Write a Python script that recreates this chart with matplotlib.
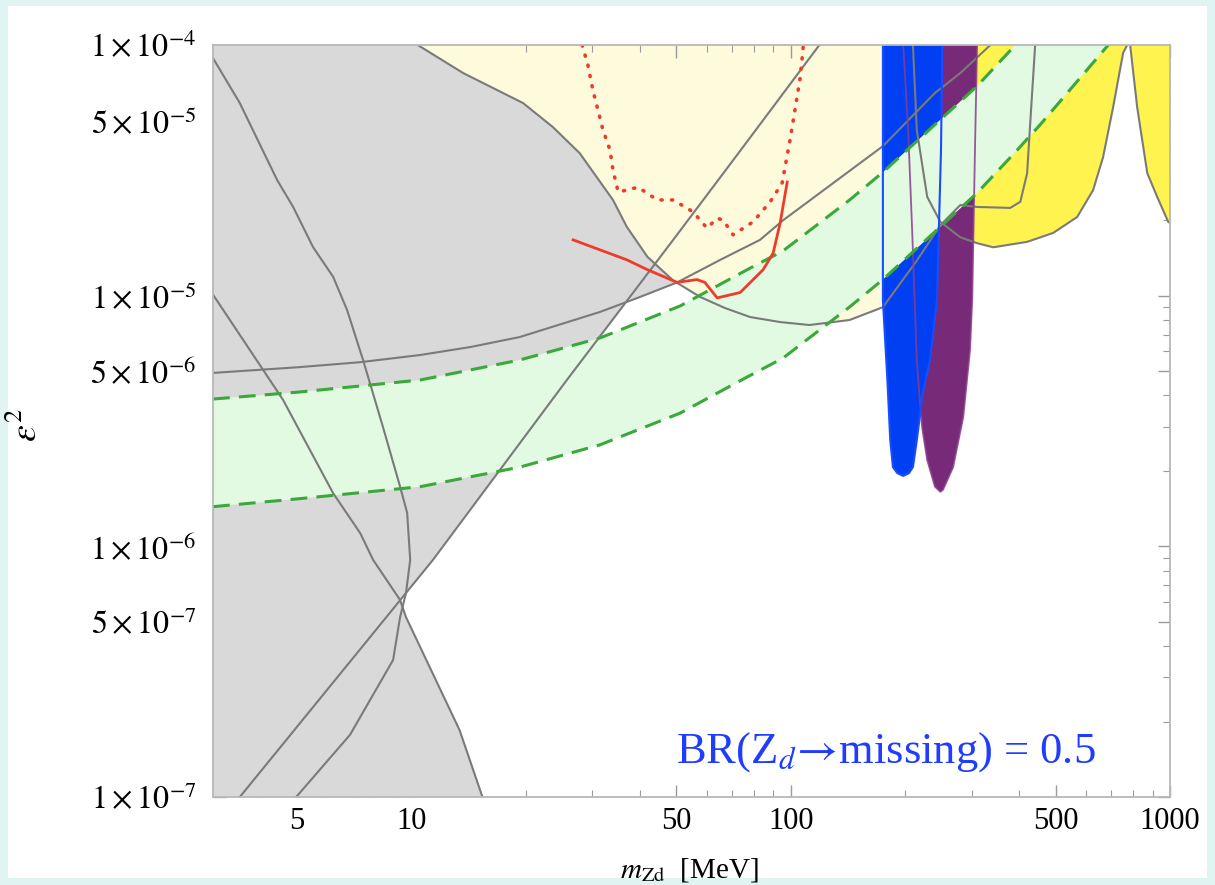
import numpy as np
import matplotlib
matplotlib.use('Agg')
import matplotlib.pyplot as plt
from matplotlib.patches import Rectangle
from matplotlib.ticker import FixedLocator, FixedFormatter, NullFormatter

plt.rcParams['font.family'] = ['Liberation Serif', 'DejaVu Serif']
plt.rcParams['mathtext.fontset'] = 'stix'

# ---- data (m_Zd in MeV, eps^2) ----
# gray excluded region outline
gray_m = [3.0, 10.4, 13.7, 19.7, 23.6, 27.8, 34.0, 37.0, 41.9, 49.0, 50.2,
          40.1, 37.2, 25.7, 11.4, 9.34, 9.68, 13.4, 15.4, 3.0]
gray_e = [1.0e-4, 1.0e-4, 7.73e-5, 5.87e-5, 4.71e-5, 3.70e-5, 2.41e-5, 1.88e-5,
          1.43e-5, 1.15e-5, 1.13e-5, 9.89e-6, 9.66e-6, 4.61e-6, 8.83e-7, 6.1e-7,
          5.22e-7, 1.85e-7, 1.0e-7, 1.0e-7]

# boundary of the pale yellow region
line_d_m = [10.4, 13.7, 19.7, 23.6, 27.8, 34.0, 37.0, 41.9, 49.0, 57.7, 67.1, 78.2,
            93.8, 112, 143, 175, 215, 248, 280, 310, 379, 403, 420, 428, 441]
line_d_e = [1.0e-4, 7.73e-5, 5.87e-5, 4.71e-5, 3.70e-5, 2.41e-5, 1.88e-5, 1.43e-5,
            1.15e-5, 9.89e-6, 8.93e-6, 8.22e-6, 7.85e-6, 7.64e-6, 8.0e-6, 9.0e-6,
            1.38e-5, 1.91e-5, 2.30e-5, 2.26e-5, 2.24e-5, 2.37e-5, 3.08e-5, 4.89e-5,
            1.0e-4]

# bright yellow region, left lobe and right lobe
line_e_m = [210, 215, 229, 248, 280, 310, 342, 420, 492, 569, 627, 666, 708, 752, 771]
line_e_e = [1.0e-4, 4.58e-5, 2.48e-5, 1.97e-5, 1.71e-5, 1.62e-5, 1.56e-5, 1.64e-5,
            1.78e-5, 2.06e-5, 2.64e-5, 3.57e-5, 5.66e-5, 9.29e-5, 1.0e-4]
line_f_m = [785, 819, 871, 925, 989, 1000]
line_f_e = [1.0e-4, 5.66e-5, 3.08e-5, 2.48e-5, 1.97e-5, 1.95e-5]

# other gray curves
line_c_m = [3.0, 5.08, 7.33, 10.55, 14.3, 19.3, 31.4, 40.1, 50.2, 65.2, 83.0, 95.5,
            175, 240, 280, 336]
line_c_e = [4.92e-6, 5.19e-6, 5.43e-6, 5.80e-6, 6.24e-6, 6.84e-6, 8.61e-6, 9.89e-6,
            1.13e-5, 1.39e-5, 1.67e-5, 2.00e-5, 3.95e-5, 6.44e-5, 7.73e-5, 1.0e-4]
l1_m = [3.0, 3.53, 4.43, 4.88, 5.51, 6.22, 6.77, 7.46, 8.42, 9.34, 9.75, 9.93,
        9.68, 9.34, 8.95, 6.89, 4.97]
l1_e = [8.87e-5, 5.87e-5, 2.89e-5, 2.26e-5, 1.56e-5, 1.19e-5, 8.77e-6, 5.54e-6,
        2.99e-6, 1.73e-6, 1.36e-6, 8.83e-7, 6.52e-7, 5.22e-7, 3.52e-7, 1.77e-7, 1.0e-7]
l2_m = [3.53, 11.4, 25.7, 49.0, 70.5, 119]
l2_e = [1.0e-7, 8.83e-7, 4.61e-6, 1.67e-5, 3.47e-5, 1.0e-4]
l4_m = [3.0, 4.07, 4.59, 6.22, 7.33, 7.93, 9.34, 9.68, 13.4, 15.4]
l4_e = [1.01e-5, 5.05e-6, 3.84e-6, 1.63e-6, 1.13e-6, 8.83e-7, 6.11e-7, 5.22e-7,
        1.85e-7, 1.0e-7]

# green band (dashed edges)
up_m = [3.0, 5.08, 10.55, 19.3, 31.4, 51.1, 76.8, 95.5, 143, 175, 310, 391]
up_e = [3.87e-6, 4.13e-6, 4.61e-6, 5.54e-6, 6.78e-6, 9.10e-6, 1.27e-5, 1.51e-5,
        2.41e-5, 3.11e-5, 6.86e-5, 1.0e-4]
lo_m = [3.0, 5.08, 10.55, 19.3, 31.4, 51.1, 76.8, 95.5, 143, 175, 310, 391, 454, 687]
lo_e = [1.44e-6, 1.55e-6, 1.73e-6, 2.07e-6, 2.54e-6, 3.40e-6, 4.74e-6, 5.64e-6,
        9.02e-6, 1.16e-5, 2.57e-5, 3.74e-5, 4.80e-5, 1.0e-4]

# blue and purple bands
blue_m = [175, 175, 180, 183, 186, 191, 198, 205, 210, 215, 223, 233, 243, 249, 251]
blue_e = [1.0e-4, 9.62e-6, 4.49e-6, 2.65e-6, 2.07e-6, 1.96e-6, 1.91e-6, 1.96e-6,
          2.07e-6, 2.65e-6, 4.09e-6, 5.54e-6, 9.62e-6, 3.81e-5, 1.0e-4]
purple_m = [198, 204, 209, 215, 219, 222, 229, 240, 248, 252, 268, 285, 297, 301, 306, 310]
purple_e = [1.0e-4, 4.58e-5, 1.83e-5, 5.54e-6, 3.84e-6, 2.99e-6, 2.21e-6, 1.73e-6,
            1.65e-6, 1.68e-6, 2.07e-6, 3.28e-6, 6.07e-6, 9.62e-6, 3.81e-5, 1.0e-4]

# red curves
red_m = [26.7, 37.0, 41.9, 50.2, 56.6, 59.4, 64.0, 73.6, 84.6, 89.9, 93.8, 97.9]
red_e = [1.67e-5, 1.39e-5, 1.27e-5, 1.13e-5, 1.16e-5, 1.13e-5, 9.8e-6, 1.03e-5,
         1.27e-5, 1.48e-5, 1.95e-5, 2.84e-5]
reddot_m = [28.2, 29.2, 30.1, 32.0, 33.4, 34.0, 35.1, 39.6, 44.5, 49.0, 55.3, 60.2,
            64.0, 66.4, 70.5, 79.6, 88.3, 94.9, 99.6, 106, 108]
reddot_e = [1.0e-4, 8.32e-5, 6.61e-5, 4.58e-5, 3.81e-5, 3.17e-5, 2.59e-5, 2.71e-5,
            2.41e-5, 2.41e-5, 2.16e-5, 1.86e-5, 2.04e-5, 2.00e-5, 1.75e-5, 1.97e-5,
            2.37e-5, 2.81e-5, 4.18e-5, 7.45e-5, 1.0e-4]

x_ticks = [5, 10, 50, 100, 500, 1000]
x_tick_labels = ['5', '10', '50', '100', '500', '1000']
y_ticks = [1e-7, 5e-7, 1e-6, 5e-6, 1e-5, 5e-5, 1e-4]
y_tick_labels = [r'$1\times10^{-7}$', r'$5\times10^{-7}$', r'$1\times10^{-6}$',
                 r'$5\times10^{-6}$', r'$1\times10^{-5}$', r'$5\times10^{-5}$',
                 r'$1\times10^{-4}$']

gray_line = '#7a7a7a'

fig = plt.figure(figsize=(12.15, 8.85), dpi=100, facecolor='#e0f5f1')
fig.patches.append(Rectangle((0.0066, 0.0079), 0.987, 0.985, transform=fig.transFigure,
                             facecolor='white', edgecolor='none', zorder=-10))
ax = fig.add_axes([0.1753, 0.0994, 0.7877, 0.8497])
ax.set_xscale('log')
ax.set_yscale('log')

# filled regions
ax.fill(line_d_m + [line_d_m[0]], line_d_e + [line_d_e[0]], color='#fefadc', lw=0, zorder=1)
ax.fill(gray_m, gray_e, color='#d9d9d9', lw=0, zorder=2)
ax.fill(line_e_m, line_e_e, color='#fff44f', lw=0, zorder=3)
ax.fill(line_f_m + [1000], line_f_e + [1.0e-4], color='#fff44f', lw=0, zorder=3)
ax.fill(purple_m, purple_e, color='#762a78', lw=0, zorder=4)
ax.fill(blue_m, blue_e, color='#0040f2', lw=0, zorder=5)
ax.fill(up_m + lo_m[::-1], up_e + lo_e[::-1], color='#e2f9e2', lw=0, zorder=6)

# gray curves
for xs, ys in [(line_d_m, line_d_e), (line_e_m, line_e_e), (line_f_m, line_f_e),
               (line_c_m, line_c_e), (l1_m, l1_e), (l2_m, l2_e), (l4_m, l4_e)]:
    ax.plot(xs, ys, color=gray_line, lw=1.5, zorder=7)

# band outlines
ax.plot(purple_m, purple_e, color='#8a3c8c', lw=1.3, alpha=0.85, zorder=8)
ax.plot(blue_m, blue_e, color='#1a4cff', lw=1.5, zorder=8)

# dashed green edges
ax.plot(up_m, up_e, color='#3aa83a', lw=2.2, dashes=(5.5, 3), zorder=9)
ax.plot(lo_m, lo_e, color='#3aa83a', lw=2.2, dashes=(5.5, 3), zorder=9)

# red curves
ax.plot(red_m, red_e, color='#ee3b2b', lw=2.0, zorder=10)
ax.plot(reddot_m, reddot_e, color='#ee3b2b', lw=2.6, linestyle=(0, (0.3, 2.6)),
        dash_capstyle='round', zorder=10)

ax.set_xlim(3, 1000)
ax.set_ylim(1e-7, 1e-4)

ax.xaxis.set_major_locator(FixedLocator(x_ticks))
ax.xaxis.set_major_formatter(FixedFormatter(x_tick_labels))
ax.xaxis.set_minor_locator(FixedLocator([m * 10 ** k for k in range(0, 3)
                                         for m in (2, 3, 4, 6, 7, 8, 9)]))
ax.xaxis.set_minor_formatter(NullFormatter())
ax.yaxis.set_major_locator(FixedLocator(y_ticks))
ax.yaxis.set_major_formatter(FixedFormatter(y_tick_labels))
ax.yaxis.set_minor_locator(FixedLocator([m * 10.0 ** k for k in (-7, -6, -5)
                                         for m in (2, 3, 4, 6, 7, 8, 9)]))
ax.yaxis.set_minor_formatter(NullFormatter())

ax.tick_params(which='both', direction='in', top=True, right=True, color='#9a9a9a')
ax.tick_params(which='major', length=9, width=1.0)
ax.tick_params(axis='y', which='major', pad=12, labelsize=23)
ax.tick_params(axis='x', which='major', pad=7, labelsize=22)
ax.tick_params(which='minor', length=5, width=0.8)
for s in ax.spines.values():
    s.set_color('#b8b8b8')
    s.set_linewidth(1.3)
    s.set_zorder(20)

ax.set_xlabel(r'$m_{\mathrm{Zd}}$  [MeV]', fontsize=21)
ax.xaxis.set_label_coords(0.498, -0.078)
ax.set_ylabel(r'$\varepsilon^2$', fontsize=27)
ax.yaxis.set_label_coords(-0.176, 0.495)

ax.text(0.703, 0.06, r'BR(Z$_d\!\rightarrow\!$missing) = 0.5', transform=ax.transAxes,
        ha='center', va='center', fontsize=32, color='#1f3cff', zorder=30)

fig.savefig('out.png', dpi=100, facecolor=fig.get_facecolor())
